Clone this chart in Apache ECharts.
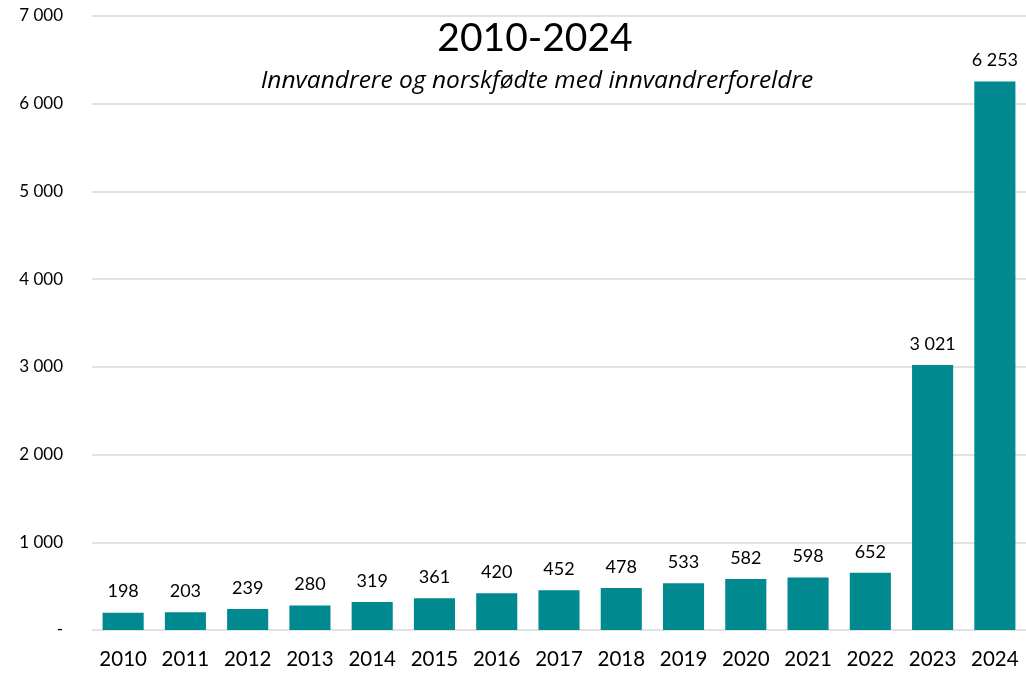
<!DOCTYPE html>
<html>
<head>
<meta charset="utf-8">
<script src="https://cdn.jsdelivr.net/npm/echarts@6/dist/echarts.min.js"></script>
<style>
  html, body { margin: 0; padding: 0; background: #fff; }
  #chart { width: 1026px; height: 673px; }
</style>
</head>
<body>
<div id="chart"></div>
<script>
const years = ['2010', '2011', '2012', '2013', '2014', '2015', '2016', '2017',
  '2018', '2019', '2020', '2021', '2022', '2023', '2024'];
const antall = [198, 203, 239, 280, 319, 361, 420, 452, 478, 533, 582, 598, 652, 3021, 6253];

// tusenskille med mellomrom, 0 vises som "-"
function fmt(v) {
  if (v === 0) return '-';
  return String(v).replace(/\B(?=(\d{3})+(?!\d))/g, ' ');
}

const chart = echarts.init(document.getElementById('chart'));
const option = {
  animation: false,
  textStyle: { fontFamily: 'Lato' },
  title: [
    {
      text: '2010-2024',
      left: 530,
      textAlign: 'center',
      top: 14,
      textStyle: { fontSize: 39, fontWeight: 'normal', color: '#000', fontFamily: 'Lato' }
    },
    {
      text: 'Innvandrere og norskfødte med innvandrerforeldre',
      left: 532,
      textAlign: 'center',
      top: 64,
      textStyle: { fontSize: 24.5, fontStyle: 'italic', fontWeight: 'normal', color: '#000', fontFamily: 'Open Sans' }
    }
  ],
  grid: { left: 92, right: -3, top: 16, bottom: 43 },
  xAxis: {
    type: 'category',
    data: years,
    axisLine: { show: false },
    axisTick: { show: false },
    axisLabel: { fontSize: 20.5, color: '#000', margin: 19, interval: 0 }
  },
  yAxis: {
    type: 'value',
    min: 0,
    max: 7000,
    interval: 1000,
    axisLine: { show: false },
    axisTick: { show: false },
    axisLabel: { fontSize: 17, color: '#000', margin: 29, formatter: fmt },
    splitLine: { lineStyle: { color: '#d9d9d9', width: 1.5 } }
  },
  series: [{
    type: 'bar',
    data: antall,
    barWidth: '66%',
    itemStyle: { color: '#008A8F' },
    label: {
      show: true,
      position: 'top',
      distance: 12,
      fontSize: 18,
      color: '#000',
      formatter: p => fmt(p.value)
    }
  }]
};
chart.setOption(option);
</script>
</body>
</html>
